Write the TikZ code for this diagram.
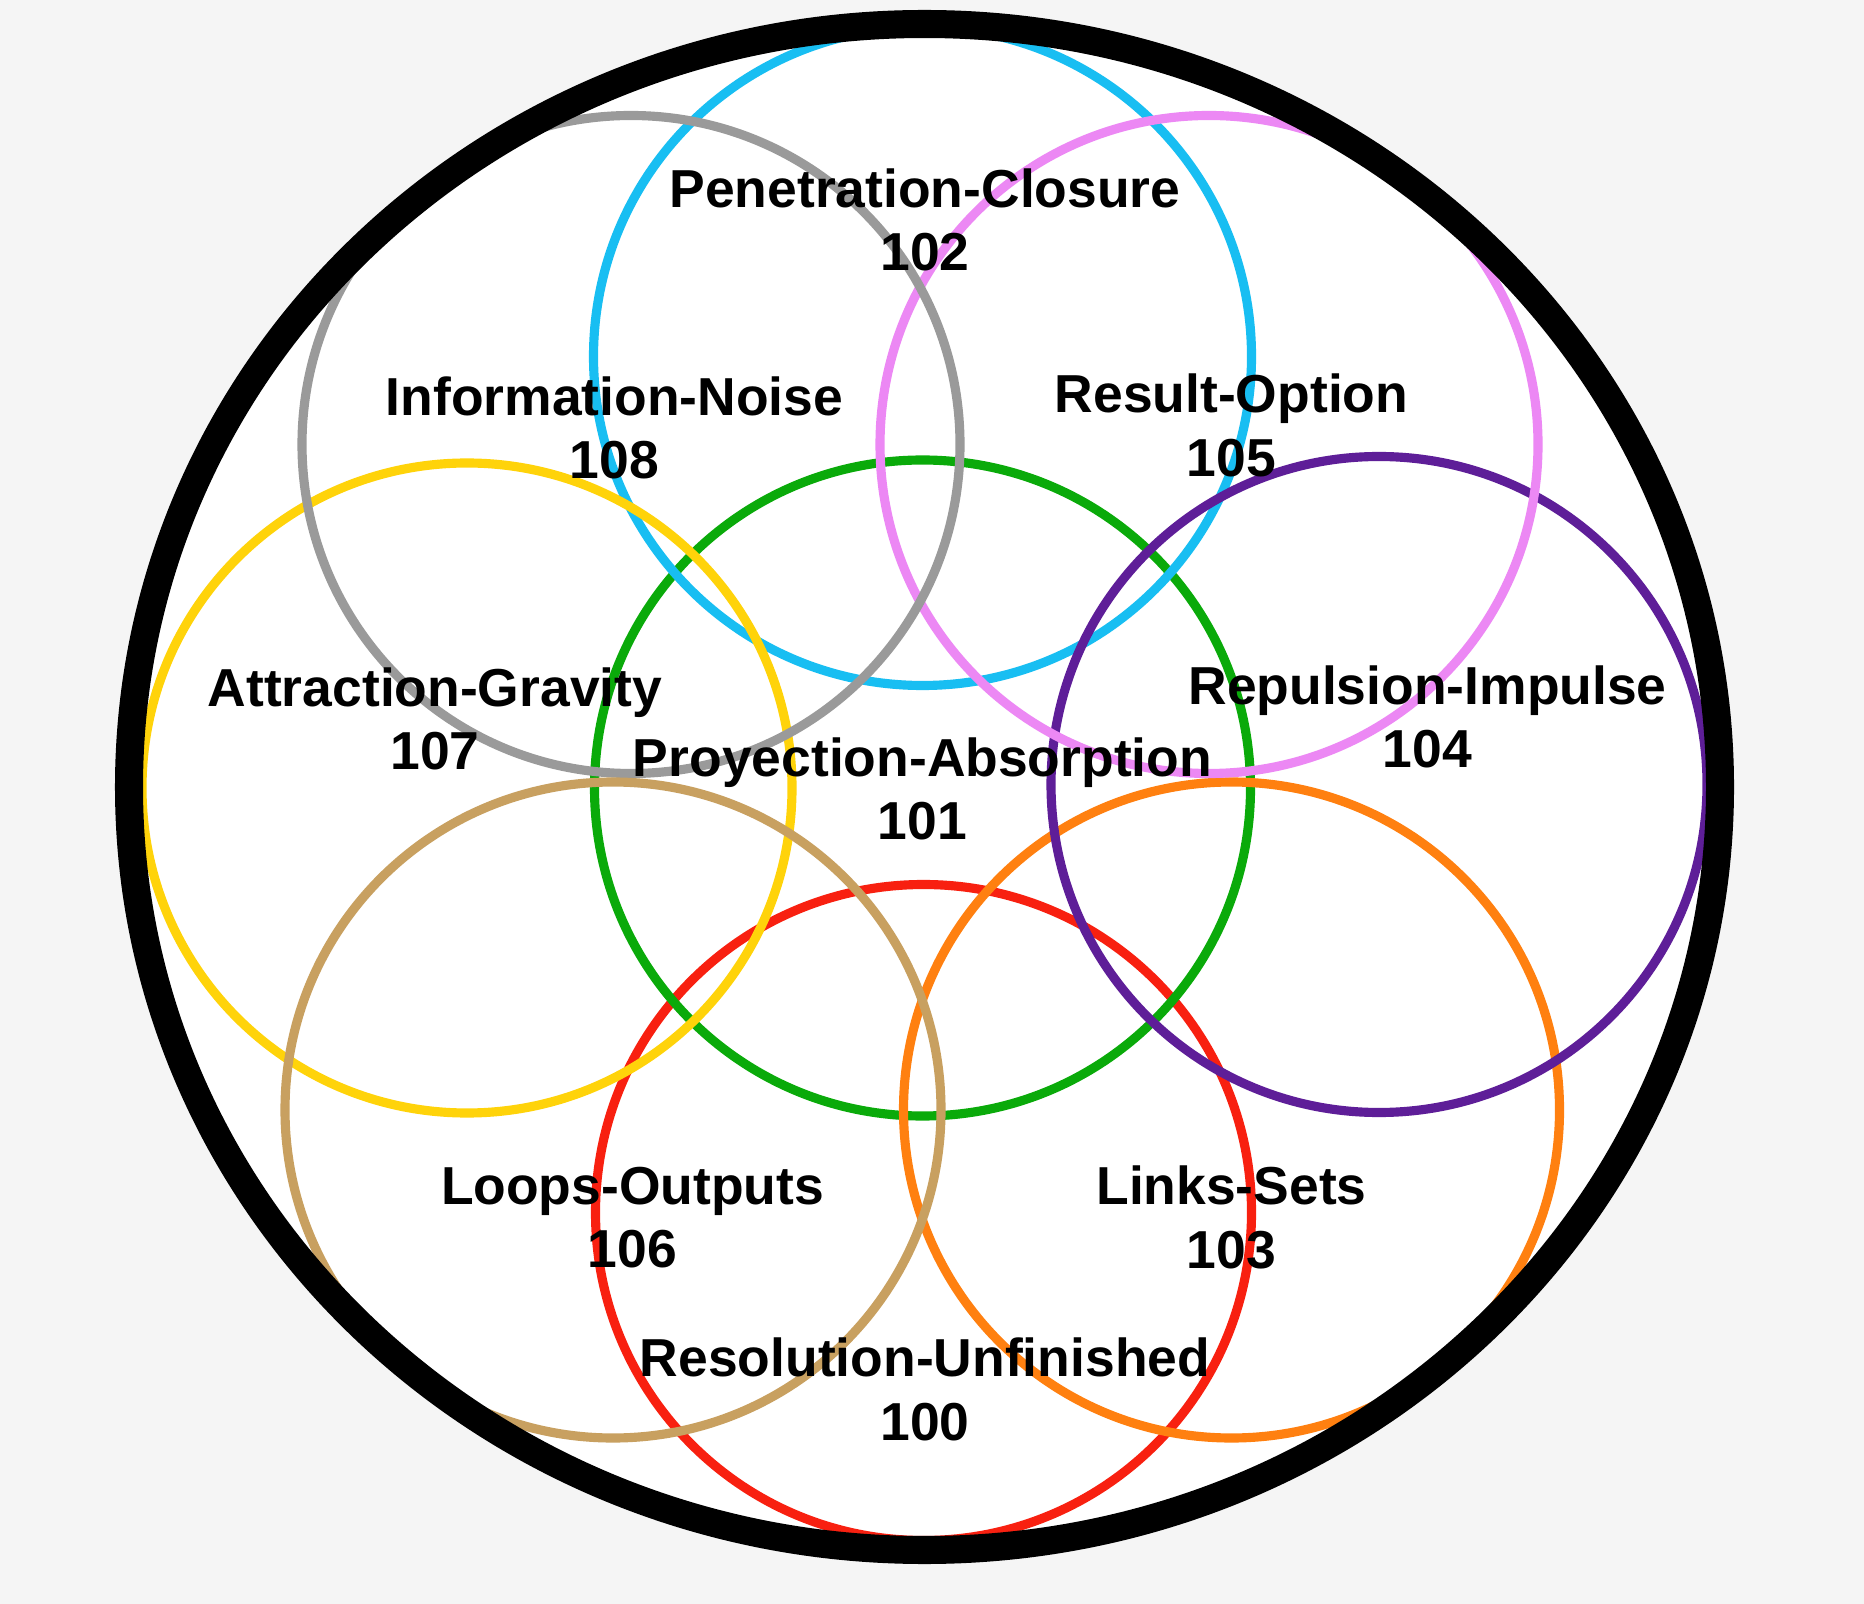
\documentclass[tikz,border=0pt]{standalone}
\usepackage{fontspec}
\setmainfont{Liberation Sans}
\definecolor{pagegray}{HTML}{F5F5F5}
\definecolor{ringgreen}{HTML}{0AAA0A}
\definecolor{ringblue}{HTML}{18BEF2}
\definecolor{ringgray}{HTML}{9A9A9A}
\definecolor{ringviolet}{HTML}{EC88F4}
\definecolor{ringyellow}{HTML}{FFD30A}
\definecolor{ringpurple}{HTML}{5E1E98}
\definecolor{ringtan}{HTML}{C8A060}
\definecolor{ringorange}{HTML}{FF8010}
\definecolor{ringred}{HTML}{F82010}
\tikzset{
  ring/.style={line width=2.6pt},
  lbl/.style={align=center, inner sep=0pt, font=\bfseries\fontsize{15.2}{18}\selectfont}
}
\begin{document}
\begin{tikzpicture}[x=0.01cm,y=-0.01cm]
  \fill[pagegray] (0,0) rectangle (1864,1604);
  \useasboundingbox (0,0) rectangle (1864,1604);
  \fill[white] (924.5,787) ellipse[x radius=795.5, y radius=763];

  \draw[ring, ringred] (923.5,1212.5) circle[radius=328];
  \draw[ring, ringgreen] (922.5,788) circle[radius=328];
  \draw[ring, ringblue] (922.5,356.5) circle[radius=329];
  \draw[ring, ringyellow] (467,788) circle[radius=325];
  \draw[ring, ringorange] (1231.5,1110) circle[radius=328];
  \draw[ring, ringpurple] (1379,784.5) circle[radius=328];
  \draw[ring, ringviolet] (1209,444.5) circle[radius=329];
  \draw[ring, ringgray] (631,444.5) circle[radius=329];
  \draw[ring, ringtan] (613,1110) circle[radius=328];

  \draw[line width=7.97pt] (924.5,787) ellipse[x radius=795.5, y radius=763];

  \node[lbl] (penetration) at (925,220) {Penetration-Closure\\102};
  \node[lbl] (information) at (614.5,428) {Information-Noise\\108};
  \node[lbl] (result) at (1231.5,425.5) {Result-Option\\105};
  \node[lbl] (attraction) at (435,719) {Attraction-Gravity\\107};
  \node[lbl] (repulsion) at (1427.5,717) {Repulsion-Impulse\\104};
  \node[lbl] (proyection) at (922.5,789) {Proyection-Absorption\\101};
  \node[lbl] (loops) at (632.5,1217.5) {Loops-Outputs\\106};
  \node[lbl] (links) at (1231.5,1217.5) {Links-Sets\\103};
  \node[lbl] (resolution) at (925,1389.5) {Resolution-Unfinished\\100};
\end{tikzpicture}
\end{document}
